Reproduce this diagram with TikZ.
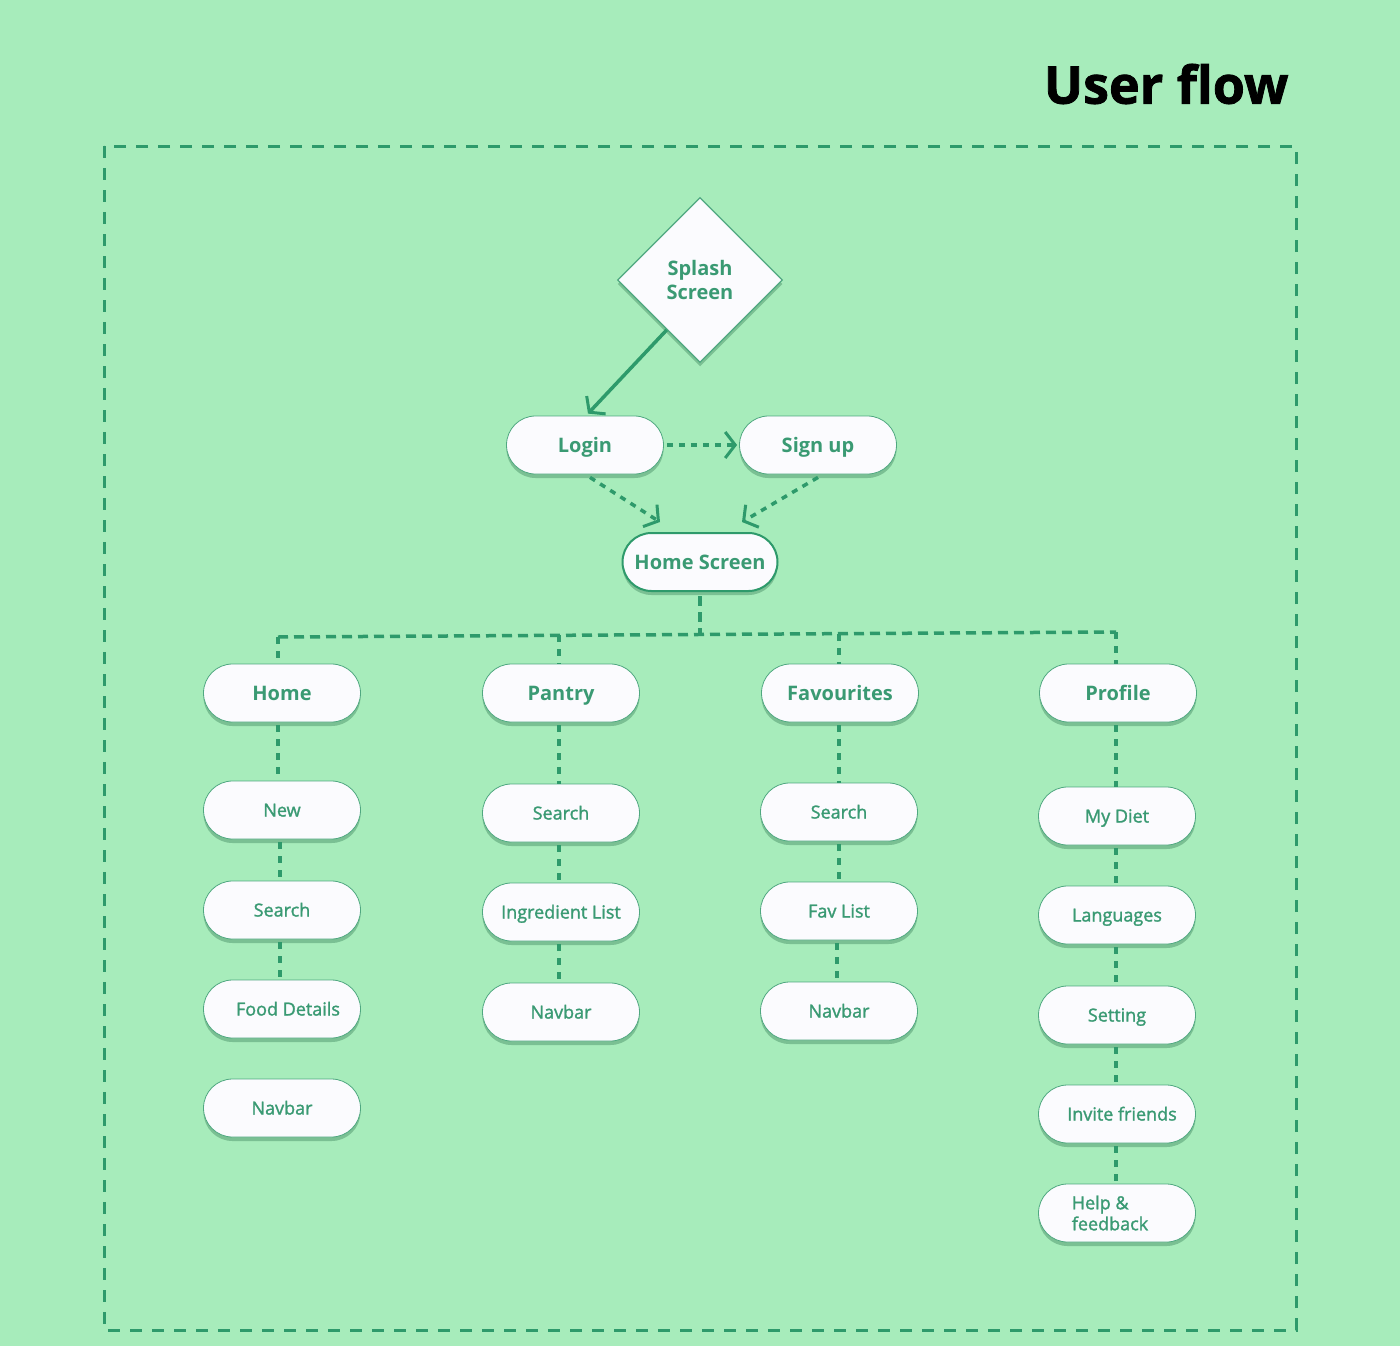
\documentclass[tikz,border=0pt]{standalone}
\usepackage{fontspec}
\setmainfont{Open Sans}
\newfontfamily\medfont[FakeBold=1.5]{Open Sans}
\newfontfamily\titlefont[FakeBold=1.5]{Open Sans}
\usetikzlibrary{shapes.geometric,arrows.meta,shadows,calc}
\definecolor{bg}{HTML}{A7ECBB}
\definecolor{lgreen}{HTML}{2E9A6B}
\definecolor{tgreen}{HTML}{3A9A73}
\definecolor{bgreen}{HTML}{4FA880}
\definecolor{sgreen}{HTML}{6FB689}
\definecolor{nodefill}{HTML}{FBFBFE}
\tikzset{
  pill/.style={draw=bgreen, line width=0.8pt, fill=nodefill, rounded corners=29pt,
    minimum width=157pt, minimum height=58pt, inner sep=0pt, text=tgreen,
    font=\medfont\fontsize{18}{21}\selectfont, text height=16pt, text depth=3pt,
    drop shadow={shadow xshift=0pt, shadow yshift=-4pt, fill=sgreen, opacity=0.8}},
  headpill/.style={pill, font=\bfseries\fontsize{20}{22}\selectfont, text height=17pt, text depth=3pt},
  conn/.style={draw=lgreen, line width=3.5pt, dash pattern=on 7pt off 7pt},
  busline/.style={draw=lgreen, line width=3.5pt, dash pattern=on 10pt off 6pt},
  arr/.style={-{Straight Barb[length=10pt,width=26pt,line width=3pt]}},
}
\begin{document}
\begin{tikzpicture}[x=1pt,y=-1pt]
\useasboundingbox (0,0) rectangle (1400,1346);
\fill[bg] (0,0) rectangle (1400,1346);
% frame
\draw[lgreen, line width=3pt, dash pattern=on 12pt off 10pt] (104,146) rectangle (1296,1330);
% title
\node[anchor=east, font=\titlefont\bfseries\fontsize{52}{56}\selectfont, text=black] (title) at (1292,84) {User flow};

% top flow
\node[diamond, aspect=1, minimum width=165pt, minimum height=165pt, inner sep=0pt,
  draw=bgreen, line width=1.2pt, fill=nodefill, text=tgreen, align=center,
  font=\bfseries\fontsize{20}{24}\selectfont,
  drop shadow={shadow xshift=0pt, shadow yshift=-4pt, fill=sgreen, opacity=0.8}] (splash) at (700,280) {Splash\\Screen};
\node[headpill] (login) at (585,445) {Login};
\node[headpill] (signup) at (818,445) {Sign up};
\node[headpill, draw=lgreen, line width=2pt, minimum width=155pt] (homescreen) at (700,562) {Home Screen};

\draw[lgreen, line width=3.5pt, arr] ($(splash.west)!0.6!(splash.south)$) -- ([xshift=3pt,yshift=2pt]login.north);
\draw[lgreen, line width=3.5pt, dash pattern=on 6pt off 6pt, arr] ([xshift=3pt]login.east) -- ([xshift=-2pt]signup.west);
\draw[lgreen, line width=3.5pt, dash pattern=on 6pt off 6pt, arr] ([xshift=5pt,yshift=-3pt]login.south) -- ([xshift=-40pt,yshift=10pt]homescreen.north);
\draw[lgreen, line width=3.5pt, dash pattern=on 6pt off 6pt, arr] ([yshift=-3pt]signup.south) -- ([xshift=42pt,yshift=10pt]homescreen.north);

% second level
\node[headpill] (home) at (282,693) {Home};
\node[headpill] (pantry) at (561,693) {Pantry};
\node[headpill] (fav) at (840,693) {Favourites};
\node[headpill] (profile) at (1118,693) {Profile};

\coordinate (hub) at (700,635);
\coordinate (busL) at (278,637);
\coordinate (busP) at (559,635);
\coordinate (busF) at (839,634);
\coordinate (busR) at (1116,632);
\draw[busline] ([yshift=-4pt]homescreen.south) -- (hub);
\draw[busline] (busL) -- (busR);
\draw[conn] (busL) -- (busL |- home.north);
\draw[conn] (busP) -- (busP |- pantry.north);
\draw[conn] (busF) -- (busF |- fav.north);
\draw[conn] (busR) -- (busR |- profile.north);

% Home column
\node[pill] (hnew) at (282,810) {New};
\node[pill] (hsearch) at (282,910) {Search};
\node[pill] (hfood) at (282,1009) {\hspace*{12pt}Food Details};
\node[pill] (hnav) at (282,1108) {Navbar};
\draw[conn] ([xshift=-4pt,yshift=-3pt]home.south) -- ([xshift=-4pt]hnew.north);
\draw[conn] ([xshift=-2pt,yshift=-3pt]hnew.south) -- ([xshift=-2pt]hsearch.north);
\draw[conn] ([xshift=-2pt,yshift=-3pt]hsearch.south) -- ([xshift=-2pt]hfood.north);

% Pantry column
\node[pill] (psearch) at (561,813) {Search};
\node[pill] (pingr) at (561,912) {Ingredient List};
\node[pill] (pnav) at (561,1012) {Navbar};
\draw[conn] ([xshift=-2pt,yshift=-3pt]pantry.south) -- ([xshift=-2pt]psearch.north);
\draw[conn] ([xshift=-2pt,yshift=-3pt]psearch.south) -- ([xshift=-2pt]pingr.north);
\draw[conn] ([xshift=-2pt,yshift=-3pt]pingr.south) -- ([xshift=-2pt]pnav.north);

% Favourites column
\node[pill] (fsearch) at (839,812) {Search};
\node[pill] (flist) at (839,911) {Fav List};
\node[pill] (fnav) at (839,1011) {Navbar};
\draw[conn] ([xshift=-1pt,yshift=-3pt]fav.south) -- (fsearch.north);
\draw[conn] ([yshift=-3pt]fsearch.south) -- (flist.north);
\draw[conn] ([xshift=-2pt,yshift=-3pt]flist.south) -- ([xshift=-2pt]fnav.north);

% Profile column
\node[pill] (pdiet) at (1117,816) {My Diet};
\node[pill] (plang) at (1117,915) {Languages};
\node[pill] (pset) at (1117,1015) {Setting};
\node[pill] (pinv) at (1117,1114) {\hspace*{10pt}Invite friends};
\node[pill, align=left, text height=, text depth=] (phelp) at (1117,1213) {Help \&\\feedback\hspace*{14pt}};
\draw[conn] ([xshift=-2pt,yshift=-3pt]profile.south) -- ([xshift=-1pt]pdiet.north);
\draw[conn] ([xshift=-1pt,yshift=-3pt]pdiet.south) -- ([xshift=-1pt]plang.north);
\draw[conn] ([xshift=-1pt,yshift=-3pt]plang.south) -- ([xshift=-1pt]pset.north);
\draw[conn] ([xshift=-1pt,yshift=-3pt]pset.south) -- ([xshift=-1pt]pinv.north);
\draw[conn] ([xshift=-1pt,yshift=-3pt]pinv.south) -- ([xshift=-1pt]phelp.north);
\end{tikzpicture}
\end{document}
